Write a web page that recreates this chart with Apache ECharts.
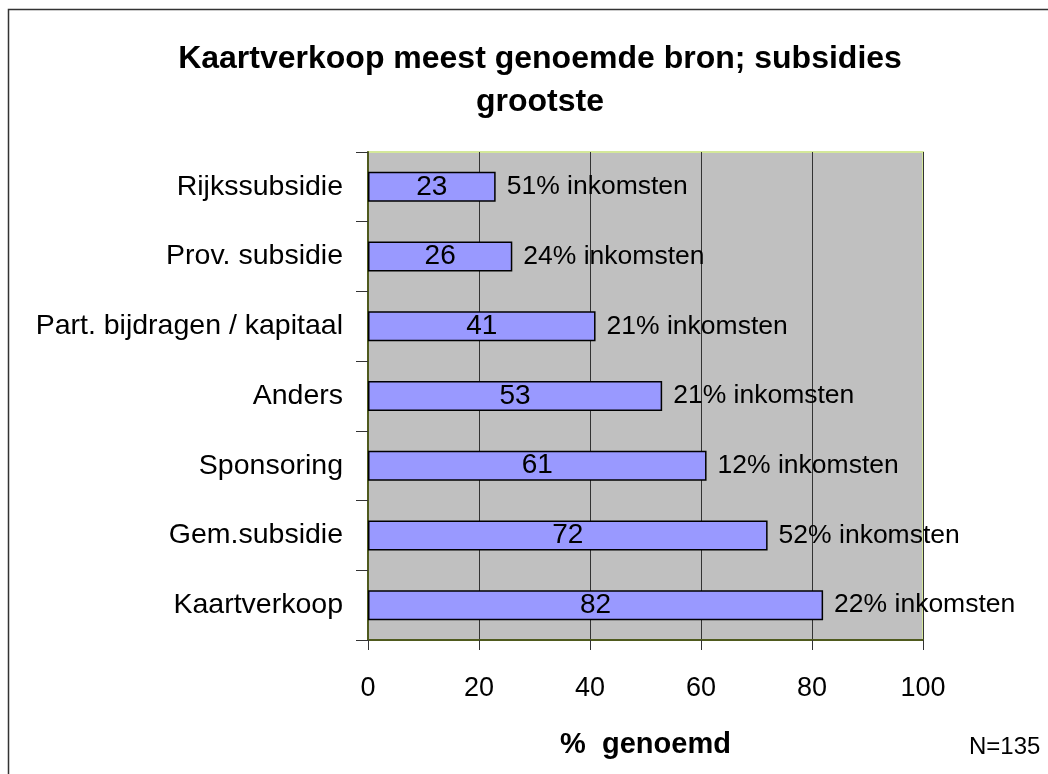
<!DOCTYPE html>
<html><head><meta charset="utf-8">
<script src="https://cdn.jsdelivr.net/npm/echarts@6/dist/echarts.min.js"></script>
<style>html,body{margin:0;padding:0;background:#fff}#c{width:1048px;height:774px}</style>
</head><body><div id="c"></div>
<script>
var categories = ['Rijkssubsidie','Prov. subsidie','Part. bijdragen / kapitaal','Anders','Sponsoring','Gem.subsidie','Kaartverkoop'];
var genoemd = [23, 26, 41, 53, 61, 72, 82];
var inkomsten = ['51% inkomsten','24% inkomsten','21% inkomsten','21% inkomsten','12% inkomsten','52% inkomsten','22% inkomsten'];
var xTicks = [0, 20, 40, 60, 80, 100];

var F = '"Liberation Sans", Arial, sans-serif';
var chart = echarts.init(document.getElementById('c'));
chart.setOption({
  animation: false,
  backgroundColor: '#fff',
  title: {
    text: 'Kaartverkoop meest genoemde bron; subsidies\ngrootste',
    left: 535, textAlign: 'center', top: 33,
    textStyle: { fontFamily: F, fontSize: 32, fontWeight: 'bold', color: '#000', lineHeight: 43 }
  },
  graphic: [
    { type: 'rect', shape: { x: 8.5, y: 9.5, width: 1100, height: 800 }, style: { fill: 'none', stroke: '#333', lineWidth: 1.5 }, silent: true },
    { type: 'rect', shape: { x: 368, y: 152, width: 555, height: 488 }, style: { fill: 'none', stroke: '#d4e89a', lineWidth: 2 }, z: 0, silent: true },
    { type: 'text', left: 969, top: 735, style: { text: 'N=135', font: '24px ' + F, fill: '#000' } }
  ],
  grid: { left: 368, right: 125, top: 152, bottom: 134, show: true, backgroundColor: '#c0c0c0', borderWidth: 0 },
  xAxis: {
    type: 'value', min: 0, max: 100, interval: 20,
    name: '%  genoemd', nameLocation: 'middle', nameGap: 90,
    nameTextStyle: { fontFamily: F, fontSize: 29, fontWeight: 'bold', color: '#000' },
    axisLine: { show: true, lineStyle: { color: '#4f5a1e', width: 2 } },
    axisTick: { show: true, length: 10, lineStyle: { color: '#333' } },
    axisLabel: { fontFamily: F, fontSize: 27, color: '#000', margin: 35,
      formatter: function (v) { return xTicks.indexOf(v) >= 0 ? String(v) : ''; } },
    splitLine: { show: true, lineStyle: { color: '#333', width: 1 } }
  },
  yAxis: {
    type: 'category', data: categories, inverse: true,
    axisLine: { show: true, lineStyle: { color: '#4f5a1e', width: 2 } },
    axisTick: { show: true, length: 12, lineStyle: { color: '#333' } },
    axisLabel: { fontFamily: F, fontSize: 28.5, color: '#000', margin: 25 }
  },
  series: [
    {
      type: 'bar', data: genoemd, barWidth: 30, z: 3,
      itemStyle: { color: '#9999ff', borderColor: '#000', borderWidth: 1.5 },
      label: { show: true, position: 'inside', fontFamily: F, fontSize: 28, color: '#000' }
    },
    {
      type: 'bar', data: genoemd, barWidth: 30, barGap: '-100%', z: 4,
      itemStyle: { color: 'rgba(0,0,0,0)' },
      label: { show: true, position: 'right', distance: 11, fontFamily: F, fontSize: 26.5, color: '#000',
        formatter: function (p) { return inkomsten[p.dataIndex]; } }
    }
  ]
});
</script></body></html>
